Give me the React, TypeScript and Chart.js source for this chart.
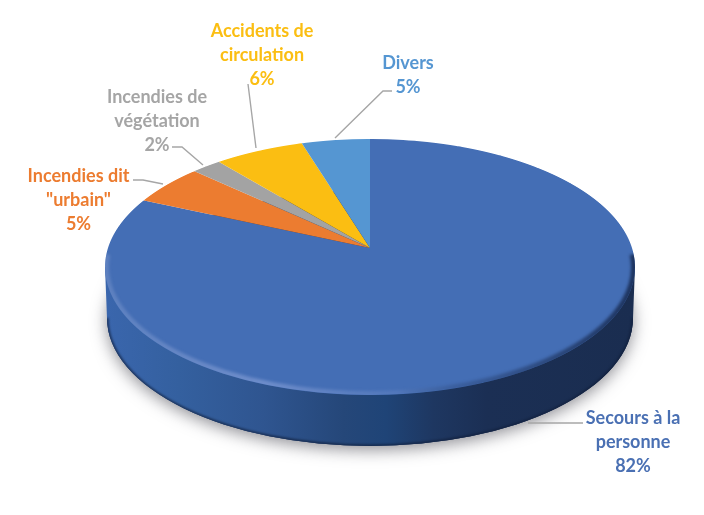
import { useEffect, useRef } from 'react';
import Chart from 'chart.js/auto';

const categories = ['Secours à la personne', 'Incendies dit "urbain"', 'Incendies de végétation', 'Accidents de circulation', 'Divers'];
const shares = [81.6, 5.2, 2.1, 6.3, 4.8];
const sliceColors = ['#446EB5', '#EC7C30', '#A3A3A3', '#FBBE12', '#5596D2'];
const textColors = ['#4A70B3', '#EC7C30', '#A5A5A5', '#FBBE12', '#5596D2'];

// label lines, centre x, first line middle y, leader line
const labelLines = [
  ['Secours à la', 'personne'],
  ['Incendies dit', '"urbain"'],
  ['Incendies de', 'végétation'],
  ['Accidents de', 'circulation'],
  ['Divers'],
];
const labelX = [633, 78.5, 157, 262, 408];
const labelY = [418, 176, 97, 31, 63];
const leaders = [
  [[528, 423], [583, 423]],
  [[163, 184], [143, 180], [133, 180]],
  [[203, 165], [182, 147], [172, 147]],
  [[256, 148], [248, 84]],
  [[335, 138], [383, 91], [392, 91]],
];

// picture of the tilted disc: where the pie centre lands and how the rows squash
const apexX = 370;
const apexY = 248;
const halfWidth = 262;
const persp = 0.001186;
const squash = 0.007988;
const faceCy = 267;
const faceRx = 265;
const faceRy = 128;
const depth = 51;

const tiltedPie = {
  id: 'tiltedPie',
  beforeDatasetsDraw(chart: Chart) {
    const ctx = chart.ctx;
    const arcs = chart.getDatasetMeta(0).data as any[];
    const R = arcs[0].outerRadius;
    const ax = arcs[0].x;
    const ay = arcs[0].y;

    // soft shadow thrown by the underside only
    ctx.save();
    ctx.shadowColor = 'rgba(70,70,80,0.6)';
    ctx.shadowBlur = 16;
    ctx.shadowOffsetY = 4;
    ctx.fillStyle = '#1B2F54';
    ctx.beginPath();
    ctx.ellipse(apexX, faceCy + depth, faceRx - 2, faceRy, 0, 0, Math.PI * 2);
    ctx.fill();
    ctx.restore();

    const wall = () => {
      ctx.beginPath();
      ctx.moveTo(apexX - faceRx, faceCy);
      ctx.lineTo(apexX - faceRx + 2, faceCy + depth);
      ctx.ellipse(apexX, faceCy + depth, faceRx - 2, faceRy, 0, Math.PI, 0, true);
      ctx.lineTo(apexX + faceRx, faceCy);
      ctx.closePath();
    };
    const side = ctx.createLinearGradient(apexX - faceRx, 0, apexX + faceRx, 0);
    side.addColorStop(0, '#3A66AD');
    side.addColorStop(0.14, '#34609F');
    side.addColorStop(0.3, '#2F5590');
    side.addColorStop(0.45, '#254779');
    side.addColorStop(0.53, '#1F4477');
    side.addColorStop(0.62, '#1E3761');
    side.addColorStop(0.72, '#1B2F54');
    side.addColorStop(1, '#1A2D50');
    ctx.save();
    ctx.fillStyle = side;
    wall();
    ctx.fill();
    // dark lower edge of the wall
    wall();
    ctx.clip();
    ctx.filter = 'blur(1px)';
    ctx.strokeStyle = 'rgba(15,28,55,0.7)';
    ctx.lineWidth = 3;
    ctx.beginPath();
    ctx.ellipse(apexX, faceCy + depth, faceRx - 2, faceRy, 0, 0, Math.PI);
    ctx.stroke();
    ctx.restore();

    // top face, row by row so the far half gets narrower
    for (let y = 135; y < 400; y++) {
      const t = y + 0.5 - apexY;
      const k = 1 + persp * t;
      const v = (squash * t) / k;
      const sy = (k * k) / squash / R;
      const sx = (halfWidth * k) / R;
      ctx.save();
      ctx.beginPath();
      ctx.rect(0, y, chart.width, 1);
      ctx.clip();
      ctx.setTransform(sx, 0, 0, sy, apexX - ax * sx, y + 0.5 - (ay + v * R) * sy);
      arcs.forEach((arc) => arc.draw(ctx));
      ctx.restore();
    }

    // bevel along the front rim
    const rim = ctx.createLinearGradient(apexX - faceRx, 0, apexX + faceRx, 0);
    rim.addColorStop(0, 'rgba(125,152,205,0.45)');
    rim.addColorStop(0.3, 'rgba(125,152,210,0.75)');
    rim.addColorStop(0.55, 'rgba(110,140,200,0.35)');
    rim.addColorStop(0.66, 'rgba(30,50,90,0.25)');
    rim.addColorStop(1, 'rgba(25,45,85,0.9)');
    ctx.save();
    ctx.beginPath();
    ctx.ellipse(apexX, faceCy, faceRx, faceRy, 0, 0, Math.PI * 2);
    ctx.clip();
    ctx.filter = 'blur(1.5px)';
    ctx.strokeStyle = rim;
    ctx.lineWidth = 6;
    ctx.beginPath();
    ctx.ellipse(apexX, faceCy, faceRx - 1, faceRy - 1, 0, -0.1, Math.PI + 0.1);
    ctx.stroke();
    ctx.restore();
    return false;
  },
  afterDraw(chart: Chart) {
    const ctx = chart.ctx;
    ctx.save();
    ctx.strokeStyle = '#A6A6A6';
    ctx.lineWidth = 1.4;
    leaders.forEach((pts) => {
      ctx.beginPath();
      pts.forEach(([x, y], i) => (i ? ctx.lineTo(x, y) : ctx.moveTo(x, y)));
      ctx.stroke();
    });
    ctx.font = 'bold 18px Lato';
    ctx.textAlign = 'center';
    ctx.textBaseline = 'middle';
    shares.forEach((share, i) => {
      const lines = [...labelLines[i], `${Math.round(share)}%`];
      ctx.fillStyle = textColors[i];
      lines.forEach((line, n) => ctx.fillText(line, labelX[i], labelY[i] + n * 24));
    });
    ctx.restore();
  },
};

const App = () => {
  const chartRef = useRef<HTMLCanvasElement | null>(null);

  useEffect(() => {
    if (!chartRef.current) return;
    const chart = new Chart(chartRef.current, {
      type: 'pie',
      data: {
        labels: categories,
        datasets: [{ data: shares, backgroundColor: sliceColors, borderWidth: 0 }],
      },
      options: {
        responsive: false,
        animation: false,
        devicePixelRatio: 1,
        plugins: { legend: { display: false }, tooltip: { enabled: false } },
      },
      plugins: [tiltedPie],
    });
    return () => chart.destroy();
  }, []);

  return (
    <div style={{ position: 'absolute', left: 0, top: 0, width: 704, height: 515 }}>
      <canvas ref={chartRef} width={704} height={515} />
    </div>
  );
};

export default App;
